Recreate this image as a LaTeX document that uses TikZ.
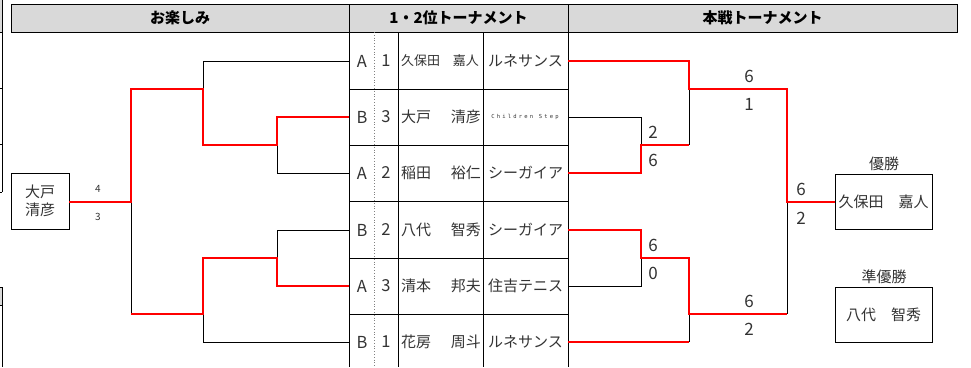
\documentclass[tikz,border=0pt]{standalone}
\usepackage{fontspec}
\setmainfont{Noto Sans CJK JP}
\newfontfamily\stepfont[LetterSpace=40]{DejaVu Sans Mono}
\definecolor{hdrgray}{HTML}{D9D9D9}
\definecolor{winred}{HTML}{FF0000}
\definecolor{txtgray}{HTML}{333333}
\begin{document}
\begin{tikzpicture}[x=1pt,y=-1pt,
  blk/.style={draw=black, line width=0.8pt},
  winline/.style={draw=winred, line width=1.7pt},
  hdr/.style={draw=black, fill=hdrgray, line width=0.8pt},
  hdrtxt/.style={font=\fontsize{15}{18}\selectfont\bfseries, inner sep=0pt},
  tabtxt/.style={font=\fontsize{15}{18}\selectfont, text=txtgray, inner sep=0pt},
  lattxt/.style={font=\fontsize{16.5}{18}\selectfont, text=txtgray, inner sep=0pt},
  smalltxt/.style={font=\fontsize{13}{16}\selectfont, text=txtgray, inner sep=0pt},
  scoretxt/.style={font=\fontsize{17}{18}\selectfont, text=txtgray, inner sep=0pt},
  tinyscore/.style={font=\fontsize{10}{12}\selectfont, text=txtgray, inner sep=0pt},
  resbox/.style={draw=black, line width=0.8pt, minimum width=97pt, minimum height=55pt, inner sep=0pt, font=\fontsize{15}{18}\selectfont, text=txtgray}
]
\useasboundingbox (0,0) rectangle (971,367);

% left edge fragments
\fill[hdrgray] (0,0) rectangle (2,32);
\fill[hdrgray] (0,287) rectangle (2,305);
\draw[blk] (2,0) -- (2,192);
\foreach \yy in {32,88,144,192} \draw[blk] (0,\yy) -- (2,\yy);
\draw[blk] (2,287) -- (2,367);
\foreach \yy in {287,305} \draw[blk] (0,\yy) -- (2,\yy);

% headers
\draw[hdr] (11,4) rectangle (349,32);
\draw[hdr] (349,4) rectangle (568,32);
\draw[hdr] (568,4) rectangle (957,32);
\node[hdrtxt] (h1) at (180,18) {お楽しみ};
\node[hdrtxt] (h2) at (458.5,18) {1・2位トーナメント};
\node[hdrtxt] (h3) at (762.5,18) {本戦トーナメント};

% middle table grid
\draw[blk] (349,32) -- (349,367);
\draw[blk] (568,32) -- (568,367);
\draw[blk] (398,32) -- (398,367);
\draw[blk] (483,32) -- (483,367);
\draw[gray, line width=0.8pt, dotted] (374,32) -- (374,367);
\foreach \yy in {89,145,201,258,314} \draw[blk] (349,\yy) -- (568,\yy);

% table text
\foreach \i/\yy/\g/\n/\s/\f/\t in {3/173/A/2/稲田/裕仁/シーガイア,4/230/B/2/八代/智秀/シーガイア,5/286/A/3/清本/邦夫/住吉テニス,6/342/B/1/花房/周斗/ルネサンス}{
  \node[lattxt] (g\i) at (362,\yy) {\g};
  \node[lattxt] (n\i) at (386,\yy) {\n};
  \node[tabtxt, anchor=west] (s\i) at (401,\yy) {\s};
  \node[tabtxt, anchor=east] (f\i) at (481,\yy) {\f};
  \node[tabtxt] (t\i) at (525.5,\yy) {\t};
}
\node[lattxt] (g1) at (362,61) {A};
\node[lattxt] (n1) at (386,61) {1};
\node[smalltxt, anchor=west] (s1) at (401,61) {久保田};
\node[smalltxt, anchor=east] (f1) at (479,61) {嘉人};
\node[tabtxt] (t1) at (525.5,61) {ルネサンス};
\node[lattxt] (g2) at (362,117) {B};
\node[lattxt] (n2) at (386,117) {3};
\node[tabtxt, anchor=west] (s2) at (401,117) {大戸};
\node[tabtxt, anchor=east] (f2) at (481,117) {清彦};
\node[inner sep=0pt, text=txtgray, font=\stepfont\fontsize{5.5}{7}\selectfont] (t2) at (525,117) {Children Step};

% row end coordinates
\foreach \i/\yy in {1/61,2/117,3/173,4/230,5/286,6/342}{
  \coordinate (L\i) at (349,\yy);
  \coordinate (R\i) at (568,\yy);
}

% left box
\node[draw=black, line width=0.8pt, minimum width=58pt, minimum height=56pt, inner sep=0pt, align=center, font=\fontsize{15}{18}\selectfont, text=txtgray] (lw) at (40,201) {大戸\\清彦};
\node[tinyscore] (ls1) at (98,189) {4};
\node[tinyscore] (ls2) at (98,217) {3};

% left bracket
\coordinate (lq1) at (277,145);
\coordinate (ls1j) at (203,89);
\coordinate (lq2) at (277,258);
\coordinate (ls2j) at (203,314);
\coordinate (lf) at (131,202);
\draw[blk] (L3) -| (lq1);
\draw[blk] (L1) -| (ls1j);
\draw[blk] (L4) -| (lq2);
\draw[blk] (L6) -| (ls2j);
\draw[blk] (lf) -- (131,314);
\draw[winline] (L2) -| (lq1) -| (ls1j) -| (lf) -- (lf -| lw.east);
\draw[winline] (L5) -| (lq2) -| (ls2j) -- (131,314);

% right bracket
\coordinate (rq1) at (641,145);
\coordinate (rs1) at (689,89);
\coordinate (rq2) at (641,258);
\coordinate (rs2) at (689,314);
\coordinate (rf) at (787,202);
\node[resbox] (win) at (883.5,201.5) {久保田\hspace{1em}嘉人};
\node[resbox] (run) at (883.5,314.5) {八代\hspace{1em}智秀};
\node[tabtxt] (winlbl) at (884,164) {優勝};
\node[tabtxt] (runlbl) at (884,277) {準優勝};

\draw[blk] (R2) -| (rq1);
\draw[blk] (rq1 -| rs1) -- (rs1);
\draw[blk] (R5) -| (rq2);
\draw[blk] (rs2) -- (689,342);
\draw[blk] (rf) -- (rs2 -| rf);
\draw[winline] (R1) -| (rs1) -| (rf) -- (rf -| win.west);
\draw[winline] (R3) -| (rq1) -- (rq1 -| rs1);
\draw[winline] (R4) -| (rq2) -| (rs2) -- (rs2 -| rf);
\draw[winline] (R6) -- (689,342);

% scores
\node[scoretxt] (sc1) at (653,132) {2};
\node[scoretxt] (sc2) at (653,160) {6};
\node[scoretxt] (sc3) at (749,76) {6};
\node[scoretxt] (sc4) at (749,104) {1};
\node[scoretxt] (sc5) at (801,189) {6};
\node[scoretxt] (sc6) at (801,218) {2};
\node[scoretxt] (sc7) at (653,245) {6};
\node[scoretxt] (sc8) at (653,273) {0};
\node[scoretxt] (sc9) at (749,301) {6};
\node[scoretxt] (sc10) at (749,329) {2};
\end{tikzpicture}
\end{document}
